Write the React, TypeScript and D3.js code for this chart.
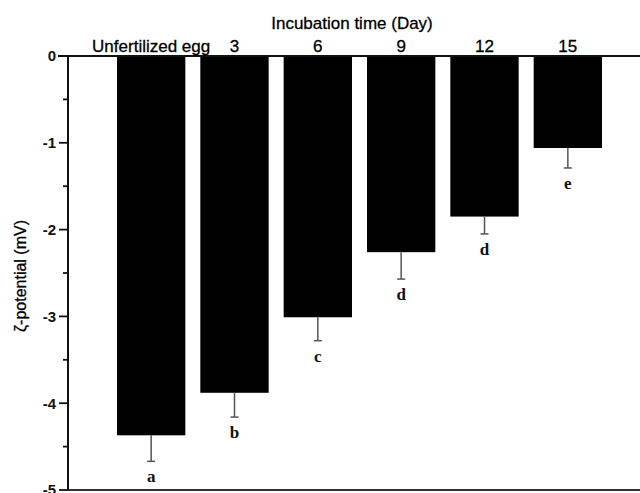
import React from 'react';
import * as d3 from 'd3';

const categories = ['Unfertilized egg', '3', '6', '9', '12', '15'];
const zetaValues = [-4.37, -3.88, -3.01, -2.26, -1.85, -1.06];
const zetaErrors = [0.3, 0.28, 0.27, 0.31, 0.2, 0.23];
const groupLetters = ['a', 'b', 'c', 'd', 'd', 'e'];
const yTicks = [0, -1, -2, -3, -4, -5];
const yMinorTicks = [-0.5, -1.5, -2.5, -3.5, -4.5];

const W = 640;
const H = 493;
const axisX = 68;

const App = () => {
  const x = d3
    .scaleBand<string>()
    .domain(categories)
    .range([109.5, 609.5])
    .paddingInner(0.18)
    .paddingOuter(0.09);
  const y = d3.scaleLinear().domain([0, -5]).range([56, 490]);

  const sans = '"Liberation Sans", Arial, sans-serif';
  const serif = '"Liberation Serif", "Times New Roman", serif';

  return (
    <svg
      width={W}
      height={H}
      style={{ position: 'absolute', left: 0, top: 0, background: '#fff' }}
    >
      {/* bars */}
      {categories.map((c, i) => (
        <rect
          key={c}
          x={x(c)}
          y={y(0) + 1}
          width={x.bandwidth()}
          height={y(zetaValues[i]) - y(0) - 1}
          fill="#000"
        />
      ))}

      {/* error bars (downward only) + letters */}
      {categories.map((c, i) => {
        const cx = (x(c) as number) + x.bandwidth() / 2;
        const y0 = y(zetaValues[i]);
        const y1 = y(zetaValues[i] - zetaErrors[i]);
        return (
          <g key={'err' + c}>
            <line x1={cx} x2={cx} y1={y0} y2={y1} stroke="#555" strokeWidth={1.5} />
            <line x1={cx - 4} x2={cx + 4} y1={y1} y2={y1} stroke="#555" strokeWidth={1.5} />
            <text
              x={cx}
              y={y1 + 21}
              textAnchor="middle"
              fontFamily={serif}
              fontWeight="bold"
              fontSize={17}
              fill="#111"
            >
              {groupLetters[i]}
            </text>
          </g>
        );
      })}

      {/* axes */}
      <line x1={58} x2={W} y1={y(0)} y2={y(0)} stroke="#111" strokeWidth={1.8} />
      <line x1={axisX} x2={W} y1={y(-5)} y2={y(-5)} stroke="#333" strokeWidth={2} />
      <line x1={axisX} x2={axisX} y1={y(0)} y2={y(-5)} stroke="#111" strokeWidth={2} />

      {yTicks.map((t) => (
        <g key={'t' + t}>
          <line x1={axisX - 9} x2={axisX} y1={y(t)} y2={y(t)} stroke="#111" strokeWidth={1.8} />
          <text
            x={axisX - 12}
            y={y(t)}
            dy="0.36em"
            textAnchor="end"
            fontFamily={sans}
            fontWeight="bold"
            fontSize={15}
            fill="#111"
          >
            {String(t)}
          </text>
        </g>
      ))}
      {yMinorTicks.map((t) => (
        <line key={'m' + t} x1={axisX - 5} x2={axisX} y1={y(t)} y2={y(t)} stroke="#111" strokeWidth={1.8} />
      ))}

      {/* category labels on top */}
      {categories.map((c) => (
        <text
          key={'lab' + c}
          x={(x(c) as number) + x.bandwidth() / 2}
          y={52}
          textAnchor="middle"
          fontFamily={sans}
          fontSize={17}
          fill="#000"
          stroke="#000"
          strokeWidth={0.3}
        >
          {c}
        </text>
      ))}

      {/* titles */}
      <text x={352} y={29} textAnchor="middle" fontFamily={sans} fontSize={17} fill="#000" stroke="#000" strokeWidth={0.3}>
        Incubation time (Day)
      </text>
      <text
        transform={`translate(26, ${276}) rotate(-90)`}
        textAnchor="middle"
        fontFamily={sans}
        fontSize={16}
        fill="#000"
        stroke="#000"
        strokeWidth={0.3}
      >
        ζ-potential (mV)
      </text>
    </svg>
  );
};

export default App;
